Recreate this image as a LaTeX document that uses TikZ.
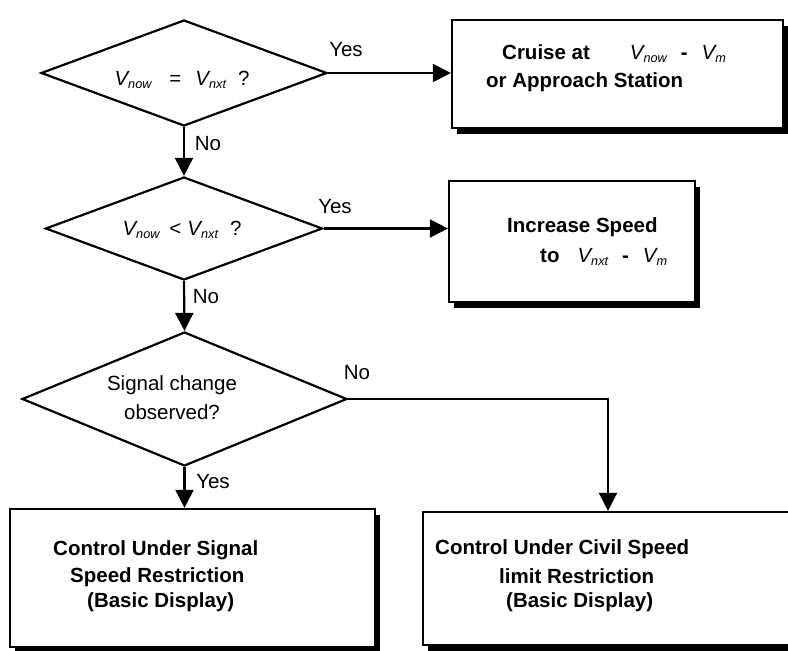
\documentclass[tikz,border=0pt]{standalone}
\usepackage{fontspec}
\setmainfont{Liberation Sans}
\usetikzlibrary{arrows.meta,positioning,shapes.geometric,shadows}
\newcommand{\vel}[1]{{\normalfont\itshape V\raisebox{-3pt}{\fontsize{12.7}{14}\selectfont #1}}}

\begin{document}
\begin{tikzpicture}[x=1pt,y=-1pt,>={Triangle[length=18pt,width=18pt]},line join=miter]
\tikzset{decision/.style={diamond,draw,line width=2.2pt,inner sep=0pt},action/.style={rectangle,draw,fill=white,line width=2.2pt,drop shadow={shadow xshift=5pt,shadow yshift=-6pt,fill=black,opacity=1}},flow/.style={draw,line width=2.2pt,->},answer/.style={font=\fontsize{20.5}{29}\selectfont},boxtext/.style={anchor=base west,inner sep=0pt,font=\fontsize{20.5}{27}\selectfont\bfseries}}
\useasboundingbox (0,0) rectangle (788,651);
\clip (0,0) rectangle (788,651);
\node[decision,minimum width=286pt,minimum height=106pt] (eqtest) at (184,73) {};
\node[answer] (eqtxt) at (182,80) {\vel{now}\hspace{18pt}=\hspace{14pt}\vel{nxt}\hspace{12pt}?};
\node[decision,minimum width=277pt,minimum height=103pt] (lttest) at (184,228.5) {};
\node[answer] (lttxt) at (182,230) {\vel{now}\hspace{10pt}<\hspace{6pt}\vel{nxt}\hspace{12pt}?};
\node[decision,minimum width=325pt,minimum height=134pt] (sigtest) at (184.5,399) {};
\node[answer,align=center] (sigtxt) at (172,398) {Signal change\\observed?};
\node[action,minimum width=331pt,minimum height=108pt] (cruise) at (617.5,74) {};
\node[boxtext] (cruisea) at (502,59) {Cruise at\hspace{40pt}\vel{now}\hspace{14pt}-\hspace{14pt}\vel{m}};
\node[boxtext] (cruiseb) at (486,87) {or Approach Station};
\node[action,minimum width=246pt,minimum height=121pt] (speedup) at (572,241.5) {};
\node[boxtext] (speedupa) at (507,232) {Increase Speed};
\node[boxtext] (speedupb) at (540,262) {to\hspace{18pt}\vel{nxt}\hspace{14pt}-\hspace{14pt}\vel{m}};
\node[action,minimum width=365pt,minimum height=138pt] (signalctl) at (192.5,578) {};
\node[boxtext] (signalctla) at (53,555) {Control Under Signal};
\node[boxtext] (signalctlb) at (70,582) {Speed Restriction};
\node[boxtext] (signalctlc) at (87,607) {(Basic Display)};
\node[action,minimum width=370pt,minimum height=133pt] (civilctl) at (608,578.5) {};
\node[boxtext] (civilctla) at (435,554) {Control Under Civil Speed};
\node[boxtext] (civilctlb) at (499,583) {limit Restriction};
\node[boxtext] (civilctlc) at (506,607) {(Basic Display)};
\draw[flow] (eqtest.east) -- (eqtest.east -| cruise.west);
\draw[flow] (eqtest.south) -- (lttest.north);
\draw[flow] (lttest.east) -- (lttest.east -| speedup.west);
\draw[flow] (lttest.south) -- (sigtest.north);
\draw[flow] (sigtest.south) -- (sigtest.south |- signalctl.north);
\draw[flow] (sigtest.east) -| (civilctl.north);
\node[answer] (yes1) at (346,50) {Yes};
\node[answer] (no1) at (208,144) {No};
\node[answer] (yes2) at (335,207) {Yes};
\node[answer] (no2) at (206,297) {No};
\node[answer] (no3) at (357,373) {No};
\node[answer] (yes3) at (213,482) {Yes};
\end{tikzpicture}
\end{document}
